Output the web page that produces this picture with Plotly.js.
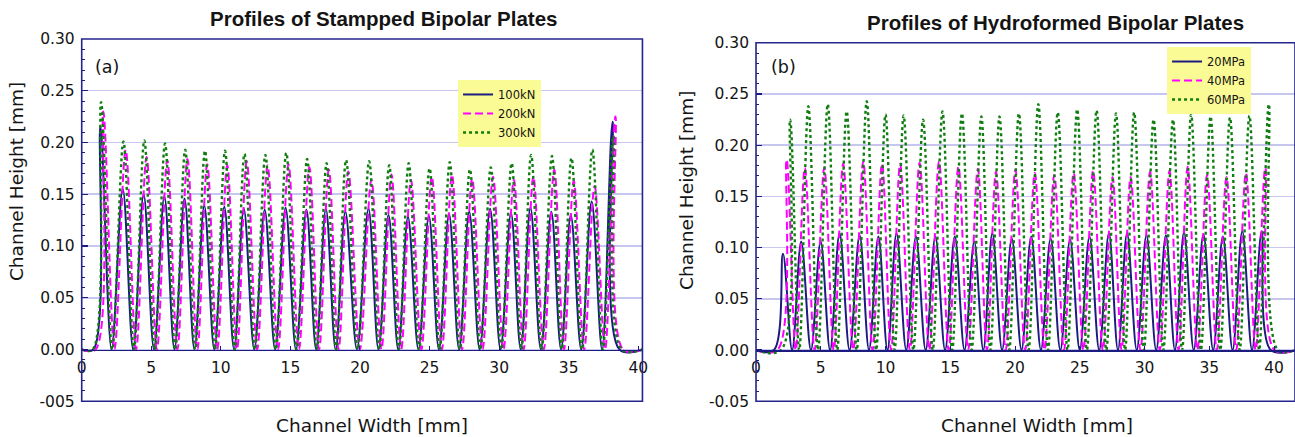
<!DOCTYPE html>
<html>
<head>
<meta charset="utf-8">
<script src="https://cdn.plot.ly/plotly-3.0.1.min.js"></script>
<style>html,body{margin:0;padding:0;background:#fff;}#chart{width:1295px;height:437px;}</style>
</head>
<body>
<div id="chart"></div>
<script>
// ---------- Data ----------
// Panel (a): stamped plates, peak positions (mm) of the 300kN profile
const peakXA = [1.39, 3.00, 4.50, 5.99, 7.44, 8.86, 10.30, 11.70, 13.20, 14.70, 16.20, 17.60, 19.00,
                20.66, 22.10, 23.50, 25.00, 26.45, 27.90, 29.40, 30.90, 32.30, 33.80, 35.20, 36.70, 38.20];
const shiftA100 = -0.05;   // 100kN peaks relative to 300kN peaks (mm)
const shiftA200 = 0.16;    // 200kN peaks relative to 300kN peaks (mm)
const heightA100 = [0.216, 0.155, 0.150, 0.148, 0.146, 0.139, 0.138, 0.136, 0.135, 0.137, 0.135, 0.136, 0.133,
                    0.136, 0.130, 0.128, 0.129, 0.131, 0.133, 0.136, 0.132, 0.137, 0.133, 0.130, 0.143, 0.220];
const heightA200 = [0.230, 0.193, 0.186, 0.183, 0.184, 0.179, 0.178, 0.182, 0.178, 0.179, 0.176, 0.174, 0.172,
                    0.164, 0.169, 0.164, 0.167, 0.169, 0.165, 0.167, 0.164, 0.167, 0.174, 0.163, 0.158, 0.225];
const heightA300 = [0.239, 0.201, 0.202, 0.199, 0.193, 0.192, 0.192, 0.189, 0.188, 0.190, 0.184, 0.180, 0.183,
                    0.182, 0.178, 0.180, 0.175, 0.181, 0.174, 0.176, 0.180, 0.188, 0.187, 0.185, 0.193, 0.206];

// Panel (b): hydroformed plates, peak positions (mm) of the 60MPa profile
const peakXB = [2.63, 4.04, 5.54, 7.00, 8.55, 10.00, 11.40, 12.90, 14.40, 15.90, 17.40, 18.80, 20.30,
                21.80, 23.30, 24.80, 26.30, 27.80, 29.20, 30.70, 32.20, 33.60, 35.10, 36.60, 38.10, 39.60];
const shiftB20 = -0.55;
const shiftB40 = -0.27;
const heightB20 = [0.094, 0.106, 0.106, 0.114, 0.112, 0.111, 0.114, 0.111, 0.111, 0.111, 0.106, 0.114, 0.109,
                   0.111, 0.109, 0.108, 0.111, 0.114, 0.114, 0.112, 0.112, 0.115, 0.113, 0.111, 0.116, 0.116];
const heightB40 = [0.186, 0.178, 0.178, 0.182, 0.184, 0.182, 0.182, 0.183, 0.184, 0.179, 0.177, 0.174, 0.176,
                   0.173, 0.171, 0.173, 0.175, 0.169, 0.169, 0.174, 0.175, 0.179, 0.171, 0.169, 0.173, 0.178];
const heightB60 = [0.225, 0.238, 0.240, 0.233, 0.243, 0.230, 0.229, 0.225, 0.233, 0.231, 0.228, 0.228, 0.231,
                   0.240, 0.232, 0.235, 0.234, 0.231, 0.232, 0.225, 0.225, 0.230, 0.228, 0.227, 0.229, 0.240];

const seriesA = ['100kN', '200kN', '300kN'];
const seriesB = ['20MPa', '40MPa', '60MPa'];
const baseline = 0.00;   // channel bottom level

const titleA = 'Profiles of Stampped Bipolar Plates';
const titleB = 'Profiles of Hydroformed Bipolar Plates';
const xTitle = 'Channel Width [mm]';
const yTitle = 'Channel Height [mm]';
const xTickVals = [0, 5, 10, 15, 20, 25, 30, 35, 40];
const xTickText = ['0', '5', '10', '15', '20', '25', '30', '35', '40'];
const yTickVals = [-0.05, 0.00, 0.05, 0.10, 0.15, 0.20, 0.25, 0.30];
const yTickTextA = ['-005', '0.00', '0.05', '0.10', '0.15', '0.20', '0.25', '0.30'];
const yTickTextB = ['-0.05', '0.00', '0.05', '0.10', '0.15', '0.20', '0.25', '0.30'];

// ---------- Style ----------
const NAVY = '#1b1b80', MAG = '#ff00ff', GRN = '#107d10', GRID = '#c6c6ef', FRAME = '#24248c';
const FONT = 'DejaVu Sans, Liberation Sans, Arial, sans-serif';
const TFONT = 'Liberation Sans, Arial, sans-serif';
const TXT = '#141414';

const rangeXA = [0, 40.3], rangeXB = [0, 41.62], rangeY = [-0.05, 0.30];
const domXA = [0.0631, 0.4961], domYA = [0.0818, 0.9108];
const domXB = [0.5838, 1.0], domYB = [0.0817, 0.9021];

// vertices (valleys at the baseline, crests at the read heights); Plotly's spline rounds them
function profile(peaks, shift, heights, xr, ramp) {
  const xs = [xr[0]], ys = [baseline];
  const n = peaks.length;
  xs.push(peaks[0] + shift - ramp); ys.push(baseline);
  for (let i = 0; i < n; i++) {
    xs.push(peaks[i] + shift); ys.push(heights[i]);
    if (i < n - 1) { xs.push((peaks[i] + peaks[i + 1]) / 2 + shift); ys.push(baseline); }
  }
  xs.push(peaks[n - 1] + shift + ramp); ys.push(baseline);
  xs.push(xr[1]); ys.push(baseline);
  return {x: xs, y: ys};
}

function trace(p, name, color, dash, width, xa, ya, lg) {
  return {x: p.x, y: p.y, name: name, type: 'scatter', mode: 'lines',
          line: {color: color, dash: dash, width: width, shape: 'spline', smoothing: 1},
          xaxis: xa, yaxis: ya, legend: lg, hoverinfo: 'skip'};
}

const data = [
  trace(profile(peakXA, shiftA100, heightA100, rangeXA, 0.5), seriesA[0], NAVY, 'solid', 2, 'x', 'y', 'legend'),
  trace(profile(peakXA, shiftA200, heightA200, rangeXA, 0.55), seriesA[1], MAG, '8px,4px', 2, 'x', 'y', 'legend'),
  trace(profile(peakXA, 0, heightA300, rangeXA, 0.6), seriesA[2], GRN, '3px,3px', 2.4, 'x', 'y', 'legend'),
  trace(profile(peakXB, shiftB20, heightB20, rangeXB, 0.7), seriesB[0], NAVY, 'solid', 2, 'x2', 'y2', 'legend2'),
  trace(profile(peakXB, shiftB40, heightB40, rangeXB, 0.7), seriesB[1], MAG, '8px,4px', 2, 'x2', 'y2', 'legend2'),
  trace(profile(peakXB, 0, heightB60, rangeXB, 0.7), seriesB[2], GRN, '3px,3px', 2.4, 'x2', 'y2', 'legend2')
];

function zeroPos(dom) {
  return dom[0] + (0 - rangeY[0]) / (rangeY[1] - rangeY[0]) * (dom[1] - dom[0]);
}

function xAxis(dom, range, ydom) {
  return {domain: dom, range: range, anchor: 'free', position: zeroPos(ydom),
          showline: true, linecolor: NAVY, linewidth: 1.6,
          ticks: 'inside', ticklen: 4, tickcolor: NAVY, tickwidth: 1,
          tickmode: 'array', tickvals: xTickVals, ticktext: xTickText,
          tickfont: {family: FONT, size: 15.5, color: TXT}, ticklabelstandoff: 3,
          showgrid: false, zeroline: false, fixedrange: true};
}
function yAxis(dom, anchor, texts) {
  return {domain: dom, range: rangeY, anchor: anchor,
          tickmode: 'array', tickvals: yTickVals, ticktext: texts,
          ticks: 'inside', ticklen: 6, tickcolor: NAVY, tickwidth: 1.2,
          minor: {ticks: 'inside', ticklen: 3, dtick: 0.01, tick0: 0, tickcolor: NAVY, tickwidth: 1, showgrid: false},
          showgrid: true, gridcolor: GRID, gridwidth: 1.5,
          zeroline: false, showline: false,
          tickfont: {family: FONT, size: 15.5, color: TXT}, ticklabelstandoff: 6, fixedrange: true};
}

const legendBase = {xanchor: 'left', yanchor: 'top', bgcolor: '#fbfb96', borderwidth: 0,
                    font: {family: FONT, size: 11.5, color: TXT}, itemwidth: 30, tracegroupgap: 0};

const layout = {
  width: 1295, height: 437,
  margin: {l: 0, r: 0, t: 0, b: 0, pad: 0},
  paper_bgcolor: '#ffffff', plot_bgcolor: '#ffffff',
  font: {family: FONT, color: TXT},
  xaxis: xAxis(domXA, rangeXA, domYA),
  yaxis: yAxis(domYA, 'x', yTickTextA),
  xaxis2: xAxis(domXB, rangeXB, domYB),
  yaxis2: yAxis(domYB, 'x2', yTickTextB),
  legend: Object.assign({x: 0.3537, y: 0.817}, legendBase),
  legend2: Object.assign({x: 0.9012, y: 0.8924}, legendBase),
  shapes: [
    {type: 'rect', xref: 'x domain', yref: 'y domain', x0: 0, x1: 1, y0: 0, y1: 1,
     line: {color: FRAME, width: 1.6}, layer: 'above'},
    {type: 'rect', xref: 'x2 domain', yref: 'y2 domain', x0: 0, x1: 1, y0: 0, y1: 1,
     line: {color: FRAME, width: 1.6}, layer: 'above'}
  ],
  annotations: [
    {text: '<b>' + titleA + '</b>', xref: 'paper', yref: 'paper', x: 0.2958, y: 0.957,
     xanchor: 'center', yanchor: 'middle', showarrow: false, font: {family: TFONT, size: 20.5, color: TXT}},
    {text: '<b>' + titleB + '</b>', xref: 'paper', yref: 'paper', x: 0.8154, y: 0.9485,
     xanchor: 'center', yanchor: 'middle', showarrow: false, font: {family: TFONT, size: 20.5, color: TXT}},
    {text: '(a)', xref: 'paper', yref: 'paper', x: 0.0718, y: 0.8467,
     xanchor: 'left', yanchor: 'middle', showarrow: false, font: {family: FONT, size: 17.5, color: TXT}},
    {text: '(b)', xref: 'paper', yref: 'paper', x: 0.5938, y: 0.8467,
     xanchor: 'left', yanchor: 'middle', showarrow: false, font: {family: FONT, size: 17.5, color: TXT}},
    {text: xTitle, xref: 'paper', yref: 'paper', x: 0.2873, y: 0.0252,
     xanchor: 'center', yanchor: 'middle', showarrow: false, font: {family: FONT, size: 18.5, color: TXT}},
    {text: xTitle, xref: 'paper', yref: 'paper', x: 0.8005, y: 0.0252,
     xanchor: 'center', yanchor: 'middle', showarrow: false, font: {family: FONT, size: 18.5, color: TXT}},
    {text: yTitle, xref: 'paper', yref: 'paper', x: 0.0124, y: 0.5835, textangle: -90,
     xanchor: 'center', yanchor: 'middle', showarrow: false, font: {family: FONT, size: 18.5, color: TXT}},
    {text: yTitle, xref: 'paper', yref: 'paper', x: 0.5297, y: 0.5652, textangle: -90,
     xanchor: 'center', yanchor: 'middle', showarrow: false, font: {family: FONT, size: 18.5, color: TXT}}
  ],
  showlegend: true
};

Plotly.newPlot('chart', data, layout, {displayModeBar: false, staticPlot: true});
</script>
</body>
</html>
